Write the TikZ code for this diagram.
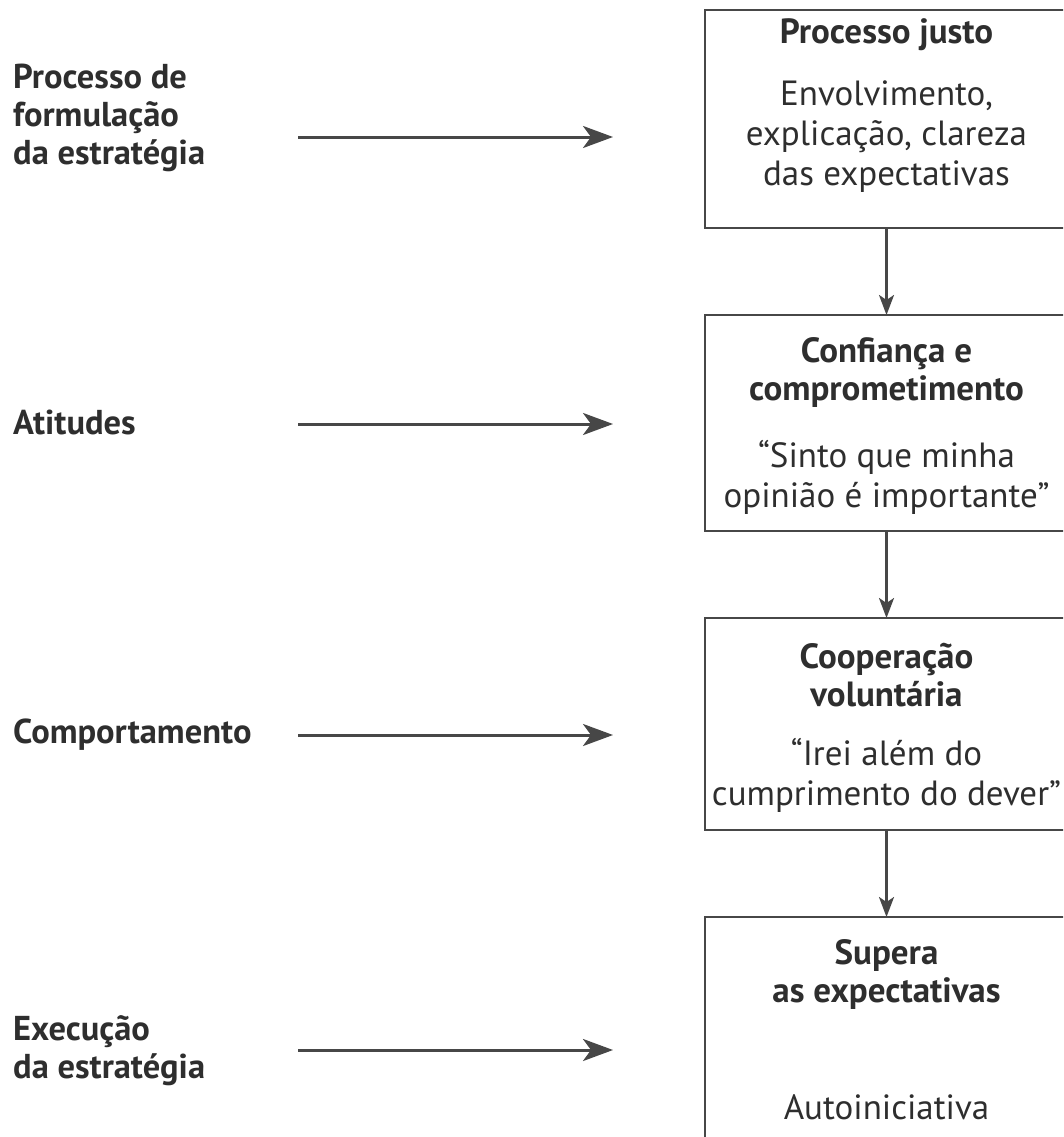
\documentclass[tikz,border=0pt]{standalone}
\usepackage{fontspec}
\setmainfont{PT Sans}
\usepackage{xcolor}
\usepackage{tikz}
\usetikzlibrary{positioning,arrows.meta}
\definecolor{flowInk}{HTML}{2E2E2E}
\definecolor{flowLine}{HTML}{474747}

\begin{document}
\begin{tikzpicture}[x=1pt, y=1pt, node distance=87pt,
  stagebox/.style={rectangle, draw=flowLine, line width=2.5pt, minimum width=363pt, outer sep=0pt, inner sep=0pt},
  stagetitle/.style={text=flowInk, align=center, inner sep=0pt, font=\fontsize{35}{38}\selectfont\bfseries},
  stagebody/.style={text=flowInk, align=center, inner sep=0pt, font=\fontsize{35}{40}\selectfont},
  sidelabel/.style={anchor=west, text=flowInk, align=left, inner sep=0pt, font=\fontsize{34.5}{38}\selectfont\bfseries},
  sidearrow/.style={-{Stealth[length=30pt,width=22pt,inset=8pt]}, line width=3pt, flowLine, shorten >=92pt},
  downarrow/.style={-{Stealth[length=20pt,width=15pt,inset=5pt]}, line width=2.5pt, flowLine}]
\clip (0,0) rectangle (1063,-1137);
% stages on the right
\node[stagebox, minimum height=218pt] (justo) at (886.5,-119) {};
\node[stagebox, minimum height=216pt, below=of justo] (confianca) {};
\node[stagebox, minimum height=212pt, below=of confianca] (cooperacao) {};
\node[stagebox, minimum height=250pt, below=of cooperacao] (supera) {};
\node[stagetitle, yshift=-25] (justotitle) at (justo.north) {Processo justo};
\node[stagebody, yshift=-127] (justobody) at (justo.north) {Envolvimento,\\explicação, clareza\\das expectativas};
\node[stagetitle, yshift=-58] (confiancatitle) at (confianca.north) {Confiança e\\comprometimento};
\node[stagebody, yshift=-162] (confiancabody) at (confianca.north) {“Sinto que minha\\opinião é importante”};
\node[stagetitle, yshift=-57] (cooperacaotitle) at (cooperacao.north) {Cooperação\\voluntária};
\node[stagebody, yshift=-157] (cooperacaobody) at (cooperacao.north) {“Irei além do\\cumprimento do dever”};
\node[stagetitle, yshift=-57] (superatitle) at (supera.north) {Supera\\as expectativas};
\node[stagebody, yshift=-190] (superabody) at (supera.north) {Autoiniciativa};
% labels on the left
\node[sidelabel] (formulacao) at (13,-118) {Processo de\\formulação\\da estratégia};
\node[sidelabel] (atitudes) at (13,-422) {Atitudes};
\node[sidelabel] (comportamento) at (13,-735) {Comportamento};
\node[sidelabel] (execucao) at (13,-1051) {Execução\\da estratégia};
% arrows
\coordinate (tail1) at (298,-137);
\coordinate (tail2) at (298,-424);
\coordinate (tail3) at (298,-735);
\coordinate (tail4) at (298,-1050);
\draw[sidearrow] (tail1) -- (tail1 -| justo.west);
\draw[sidearrow] (tail2) -- (tail2 -| confianca.west);
\draw[sidearrow] (tail3) -- (tail3 -| cooperacao.west);
\draw[sidearrow] (tail4) -- (tail4 -| supera.west);
\draw[downarrow] (justo) -- (confianca);
\draw[downarrow] (confianca) -- (cooperacao);
\draw[downarrow] (cooperacao) -- (supera);
\end{tikzpicture}
\end{document}
